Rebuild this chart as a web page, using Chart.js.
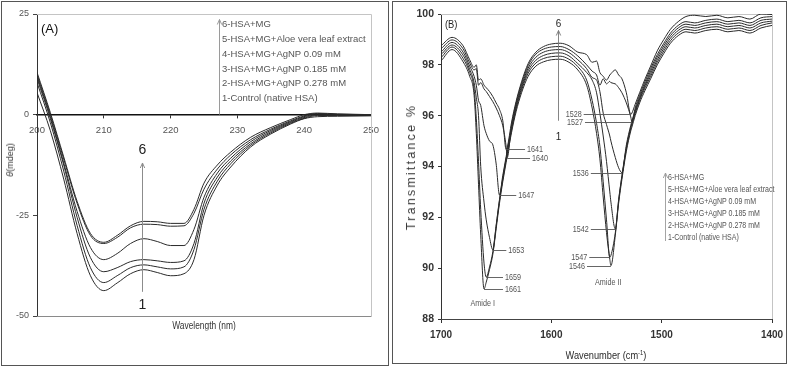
<!DOCTYPE html>
<html>
<head>
<meta charset="utf-8">
<script src="https://cdn.jsdelivr.net/npm/chart.js@4.4.1/dist/chart.umd.min.js"></script>
<style>
  body { margin: 0; background: #fff; }
  #wrap { position: relative; width: 787px; height: 367px; overflow: hidden; font-family: "Liberation Sans", Arial, sans-serif; }
  .box { position: absolute; border: 1px solid #555; }
  canvas { position: absolute; top: 0; }
  .ttl { position: absolute; white-space: nowrap; color: #333; transform: translate(-50%, -50%); }
  .rot { transform: translate(-50%, -50%) rotate(-90deg); }
  .nar { transform: translate(-50%, -50%) scaleX(0.84); }
</style>
</head>
<body>
<div id="wrap">
  <div class="box" style="left:1px;top:1px;width:386px;height:363px"></div>
  <div class="box" style="left:392px;top:1px;width:393px;height:361px"></div>
  <canvas id="cd" width="390" height="367" style="left:0"></canvas>
  <canvas id="ftir" width="397" height="367" style="left:390px"></canvas>
  <div class="ttl rot" style="left:10px;top:160px;font-size:9px"><i>θ</i>(mdeg)</div>
  <div class="ttl nar" style="left:204px;top:325px;font-size:10px">Wavelength (nm)</div>
  <div class="ttl rot" style="left:411px;top:167px;font-size:12.5px;letter-spacing:2.2px;color:#3a3a3a">Transmittance %</div>
  <div class="ttl nar" style="left:606px;top:355px;font-size:11px;color:#2a2a2a">Wavenumber (cm<sup style="font-size:7px">-1</sup>)</div>
</div>
<script>
// legend text (same for both panels)
const legendLabels = [
  '6-HSA+MG',
  '5-HSA+MG+Aloe vera leaf extract',
  '4-HSA+MG+AgNP 0.09 mM',
  '3-HSA+MG+AgNP 0.185 mM',
  '2-HSA+MG+AgNP 0.278 mM',
  '1-Control (native HSA)'
];

// (A) CD spectra, wavelength in nm, ellipticity in mdeg
const wavelength = [200, 202, 204, 206, 208, 210, 212, 214, 216, 218, 220, 222, 223.5, 225, 227, 229, 232, 235, 238, 240, 242, 245, 250];
const cd6 = [10.5, 0.5, -10.5, -21.5, -29.5, -31.7, -30.0, -27.6, -26.5, -26.6, -27.0, -27.0, -23.5, -17.0, -12.5, -9.3, -5.6, -3.2, -1.2, 0.0, 0.4, 0.2, 0.0];
const cd5 = [10.0, 0.0, -11.0, -22.0, -30.0, -32.0, -30.5, -28.1, -27.2, -27.3, -27.7, -27.6, -24.5, -18.5, -13.5, -10.0, -6.2, -3.6, -1.5, -0.3, 0.3, 0.1, 0.0];
const cd4 = [9.5, -0.5, -12.0, -24.0, -33.0, -36.0, -34.5, -32.0, -30.8, -31.5, -32.5, -32.5, -28.5, -20.5, -14.5, -10.8, -6.7, -3.9, -1.7, -0.5, 0.2, 0.0, 0.0];
const cd3 = [9.0, -1.0, -12.5, -25.5, -35.5, -39.0, -38.0, -36.5, -36.0, -36.3, -36.7, -36.3, -32.0, -22.0, -15.5, -11.5, -7.2, -4.2, -1.9, -0.7, 0.0, 0.0, -0.1];
const cd2 = [8.0, -2.0, -14.0, -27.5, -38.0, -41.7, -40.0, -38.0, -37.3, -37.8, -38.3, -37.8, -33.5, -23.5, -16.5, -12.2, -7.6, -4.5, -2.1, -0.9, -0.2, -0.2, -0.2];
const cd1 = [5.5, -4.0, -16.0, -29.5, -40.0, -43.7, -41.8, -39.5, -38.5, -39.2, -40.0, -39.5, -36.0, -25.0, -17.5, -13.0, -8.0, -4.8, -2.3, -1.0, -0.5, -0.4, -0.3];
const cdTicksX = [200, 210, 220, 230, 240, 250];
const cdTicksY = [-50, -25, 0, 25];

// (B) FTIR spectra, wavenumber in cm-1, transmittance %
const wavenumber = [1700, 1690, 1680, 1674, 1670, 1668, 1666, 1664, 1661, 1659, 1656, 1653, 1650, 1647, 1644, 1641, 1640, 1636, 1632, 1627, 1621, 1614, 1607, 1600, 1592, 1584, 1576, 1568, 1563, 1559, 1556, 1553, 1550, 1547, 1546, 1542, 1539, 1536, 1532, 1528, 1527, 1524, 1520, 1515, 1510, 1504, 1498, 1492, 1485, 1478, 1470, 1460, 1450, 1440, 1430, 1420, 1410, 1400];
const ft6 = [98.75, 99.08, 98.75, 98.2, 97.9, 98.0, 97.4, 97.45, 97.2, 97.1, 96.95, 96.75, 96.5, 96.25, 95.8, 94.67, 94.75, 95.75, 96.55, 97.33, 98.05, 98.5, 98.72, 98.82, 98.85, 98.75, 98.5, 98.4, 98.1, 98.15, 97.7, 97.55, 97.4, 97.6, 97.65, 97.8, 97.6, 97.45, 96.9, 96.05, 96.1, 96.45, 96.9, 97.45, 97.95, 98.55, 99.0, 99.4, 99.7, 99.9, 99.95, 99.9, 99.95, 99.85, 99.9, 99.8, 100.0, 99.98];
const ft5 = [98.63, 98.98, 98.63, 98.08, 97.8, 97.85, 97.2, 97.3, 97.05, 96.95, 96.75, 96.55, 96.3, 96.0, 95.6, 94.8, 94.35, 95.65, 96.48, 97.25, 97.97, 98.42, 98.62, 98.7, 98.72, 98.6, 98.35, 98.0, 97.75, 97.6, 97.2, 97.45, 97.25, 97.35, 97.3, 97.25, 97.1, 96.9, 96.5, 95.95, 95.75, 96.3, 96.8, 97.35, 97.85, 98.4, 98.85, 99.25, 99.55, 99.7, 99.65, 99.75, 99.8, 99.7, 99.75, 99.65, 99.85, 99.9];
const ft4 = [98.5, 98.88, 98.5, 97.95, 97.55, 97.2, 96.6, 96.4, 95.6, 95.3, 95.0, 94.85, 94.1, 92.88, 93.65, 94.38, 94.62, 95.58, 96.4, 97.16, 97.87, 98.3, 98.5, 98.58, 98.6, 98.48, 98.2, 97.85, 97.5, 97.4, 96.95, 96.1, 95.65, 95.2, 95.0, 94.35, 93.95, 93.76, 94.85, 95.62, 95.78, 96.22, 96.72, 97.25, 97.75, 98.3, 98.75, 99.15, 99.45, 99.6, 99.55, 99.65, 99.7, 99.6, 99.65, 99.55, 99.75, 99.8];
const ft3 = [98.4, 98.78, 98.38, 97.82, 97.3, 96.7, 96.0, 94.0, 92.6, 91.9, 91.2, 90.72, 91.7, 92.7, 93.55, 94.3, 94.55, 95.5, 96.32, 97.08, 97.77, 98.18, 98.37, 98.45, 98.47, 98.35, 98.05, 97.7, 97.4, 96.9, 96.1, 95.2, 94.2, 93.0, 92.6, 91.54, 92.7, 93.65, 94.75, 95.55, 95.7, 96.15, 96.65, 97.18, 97.65, 98.2, 98.65, 99.05, 99.35, 99.5, 99.45, 99.55, 99.6, 99.5, 99.55, 99.45, 99.65, 99.72];
const ft2 = [98.28, 98.7, 98.25, 97.7, 97.05, 95.9, 94.2, 92.3, 90.2, 89.65, 90.05, 90.65, 91.65, 92.65, 93.5, 94.25, 94.5, 95.45, 96.25, 97.0, 97.67, 98.07, 98.25, 98.32, 98.34, 98.22, 97.93, 97.4, 96.6, 95.7, 94.8, 93.4, 91.9, 90.43, 90.5, 91.4, 92.65, 93.6, 94.7, 95.5, 95.65, 96.1, 96.6, 97.1, 97.55, 98.1, 98.55, 98.95, 99.25, 99.4, 99.35, 99.45, 99.5, 99.4, 99.45, 99.35, 99.55, 99.65];
const ft1 = [98.15, 98.6, 98.12, 97.55, 96.8, 95.3, 93.3, 91.3, 89.18, 89.45, 89.95, 90.55, 91.55, 92.55, 93.4, 94.15, 94.4, 95.35, 96.15, 96.9, 97.55, 97.95, 98.12, 98.2, 98.22, 98.1, 97.8, 97.2, 96.3, 95.3, 94.3, 92.8, 91.4, 90.35, 90.1, 91.3, 92.55, 93.5, 94.6, 95.4, 95.55, 96.0, 96.5, 97.0, 97.45, 98.0, 98.45, 98.85, 99.15, 99.3, 99.25, 99.35, 99.4, 99.3, 99.35, 99.25, 99.45, 99.55];
const ftTicksX = [1700, 1600, 1500, 1400];
const ftTicksY = [88, 90, 92, 94, 96, 98, 100];

const cdSeries = [cd6, cd5, cd4, cd3, cd2, cd1];
const ftSeries = [ft6, ft5, ft4, ft3, ft2, ft1];

const fontS = '"Liberation Sans", Arial, sans-serif';

function arrowUp(ctx, x, yFrom, yTo) {
  ctx.beginPath();
  ctx.moveTo(x, yFrom);
  ctx.lineTo(x, yTo);
  ctx.stroke();
  ctx.beginPath();
  ctx.moveTo(x - 2.2, yTo + 5);
  ctx.lineTo(x, yTo);
  ctx.lineTo(x + 2.2, yTo + 5);
  ctx.stroke();
}

// condensed text (the original uses a narrow face)
function narrow(ctx, t, x, y, align, sx) {
  ctx.save();
  ctx.translate(x, y);
  ctx.scale(sx || 0.82, 1);
  ctx.textAlign = align;
  ctx.fillText(t, 0, 0);
  ctx.restore();
}

function frame(ctx, a, bottomColor) {
  ctx.lineWidth = 1;
  ctx.strokeStyle = '#c4c4c4';
  ctx.beginPath();
  ctx.moveTo(a.left, a.top + 0.5);
  ctx.lineTo(a.right + 0.5, a.top + 0.5);
  ctx.lineTo(a.right + 0.5, a.bottom);
  ctx.stroke();
  ctx.strokeStyle = bottomColor;
  ctx.beginPath();
  ctx.moveTo(a.left, a.bottom + 0.5);
  ctx.lineTo(a.right + 0.5, a.bottom + 0.5);
  ctx.stroke();
}

// extras for panel A: frame, arrow, labels, text legend
const extrasA = {
  id: 'extrasA',
  beforeDatasetsDraw(chart) {
    const { ctx, chartArea: a } = chart;
    ctx.save();
    frame(ctx, a, '#8a8a8a');
    ctx.restore();
  },
  afterDatasetsDraw(chart) {
    const { ctx, chartArea: a, scales: { x, y } } = chart;
    ctx.save();
    ctx.strokeStyle = '#8c8c8c';
    ctx.lineWidth = 1;
    const ax = Math.round(x.getPixelForValue(215.7)) + 0.5;
    arrowUp(ctx, ax, y.getPixelForValue(-44), y.getPixelForValue(-12));
    ctx.fillStyle = '#222';
    ctx.font = '14px ' + fontS;
    ctx.textAlign = 'center';
    ctx.textBaseline = 'middle';
    ctx.fillText('6', ax, y.getPixelForValue(-8.9));
    ctx.fillText('1', ax, y.getPixelForValue(-47.3));
    ctx.font = '13px ' + fontS;
    ctx.fillStyle = '#111';
    ctx.textAlign = 'left';
    ctx.fillText('(A)', a.left + 4, a.top + 15);
    // legend
    const lx = a.left + 185, ly = a.top + 10.5;
    ctx.strokeStyle = '#9a9a9a';
    arrowUp(ctx, lx - 2.5, ly + 90, ly - 5);
    ctx.font = '9.5px ' + fontS;
    ctx.fillStyle = '#555';
    legendLabels.forEach((t, i) => ctx.fillText(t, lx, ly + i * 14.8));
    ctx.restore();
  }
};

// peak labels for panel B: series, wavenumber of minimum, side, text anchor wavenumber
const peaksB = [
  { s: ft6, nu: 1641, side: 'r', at: 1622 },
  { s: ft5, nu: 1640, side: 'r', at: 1617.5 },
  { s: ft4, nu: 1647, side: 'r', at: 1630 },
  { s: ft3, nu: 1653, side: 'r', at: 1639 },
  { s: ft2, nu: 1659, side: 'r', at: 1642 },
  { s: ft1, nu: 1661, side: 'r', at: 1642 },
  { s: ft6, nu: 1528, side: 'l', at: 1572.5 },
  { s: ft5, nu: 1527, side: 'l', at: 1571.3 },
  { s: ft4, nu: 1536, side: 'l', at: 1566 },
  { s: ft3, nu: 1542, side: 'l', at: 1566 },
  { s: ft2, nu: 1547, side: 'l', at: 1567.4 },
  { s: ft1, nu: 1546, side: 'l', at: 1569.5 }
];

const extrasB = {
  id: 'extrasB',
  beforeDatasetsDraw(chart) {
    const { ctx, chartArea: a } = chart;
    ctx.save();
    frame(ctx, a, '#444');
    ctx.restore();
  },
  afterDatasetsDraw(chart) {
    const { ctx, chartArea: a, scales: { x, y } } = chart;
    ctx.save();
    ctx.lineWidth = 0.9;
    ctx.strokeStyle = '#555';
    ctx.fillStyle = '#555';
    ctx.font = '9px ' + fontS;
    ctx.textBaseline = 'middle';
    peaksB.forEach(p => {
      const t = p.s[wavenumber.indexOf(p.nu)];
      const px = x.getPixelForValue(p.nu);
      const py = Math.round(y.getPixelForValue(t)) + 0.5;
      const tx = x.getPixelForValue(p.at);
      ctx.beginPath();
      if (p.side === 'r') {
        ctx.moveTo(px, py); ctx.lineTo(tx - 2, py);
      } else {
        ctx.moveTo(tx + 2, py); ctx.lineTo(px, py);
      }
      ctx.stroke();
      narrow(ctx, String(p.nu), tx, py, p.side === 'r' ? 'left' : 'right', 0.8);
    });
    narrow(ctx, 'Amide I', x.getPixelForValue(1662.2), y.getPixelForValue(88.6), 'center', 0.8);
    narrow(ctx, 'Amide II', x.getPixelForValue(1548.4), y.getPixelForValue(89.43), 'center', 0.8);
    // arrow 1 -> 6
    ctx.strokeStyle = '#777';
    const ax = Math.round(x.getPixelForValue(1594.4)) + 0.5;
    arrowUp(ctx, ax, y.getPixelForValue(95.8), y.getPixelForValue(99.35));
    ctx.fillStyle = '#222';
    ctx.font = '11px ' + fontS;
    narrow(ctx, '6', ax, y.getPixelForValue(99.62), 'center', 0.9);
    narrow(ctx, '1', ax, y.getPixelForValue(95.15), 'center', 0.9);
    ctx.font = '11px ' + fontS;
    narrow(ctx, '(B)', a.left + 4, a.top + 11, 'left', 0.85);
    // legend
    const lx = a.left + 227, ly = a.top + 164;
    ctx.strokeStyle = '#9a9a9a';
    arrowUp(ctx, lx - 2.5, ly + 63, ly - 5);
    ctx.font = '8.8px ' + fontS;
    ctx.fillStyle = '#555';
    legendLabels.forEach((t, i) => narrow(ctx, t, lx, ly + i * 12, 'left', 0.8));
    ctx.restore();
  }
};

function makeSets(xs, series) {
  return series.map((vals, k) => ({
    label: legendLabels[k],
    data: xs.map((v, i) => ({ x: v, y: vals[i] })),
    borderColor: '#2a2a2a',
    borderWidth: 1,
    pointRadius: 0,
    fill: false,
    cubicInterpolationMode: 'monotone'
  }));
}

const plain = v => String(v);

new Chart(document.getElementById('cd'), {
  type: 'line',
  data: { datasets: makeSets(wavelength, cdSeries) },
  options: {
    responsive: false,
    animation: false,
    layout: { padding: { left: 0, right: 19, top: 14, bottom: 51 } },
    plugins: { legend: { display: false }, tooltip: { enabled: false } },
    scales: {
      x: {
        type: 'linear', position: { y: 0 }, min: 200, max: 250,
        afterBuildTicks: s => { s.ticks = cdTicksX.map(v => ({ value: v })); },
        ticks: { color: '#555', font: { family: fontS, size: 9.5 }, padding: 7, maxRotation: 0, callback: plain },
        grid: { drawOnChartArea: false, tickLength: 3, color: '#333' },
        border: { color: '#111', width: 1.4 },
        afterFit: s => { s.paddingLeft = 0; s.paddingRight = 0; }
      },
      y: {
        type: 'linear', min: -50, max: 25,
        afterBuildTicks: s => { s.ticks = cdTicksY.map(v => ({ value: v })); },
        ticks: { color: '#555', font: { family: fontS, size: 9 }, padding: 4, callback: plain },
        grid: { drawOnChartArea: false, tickLength: 4, color: '#444' },
        border: { color: '#333', width: 1 },
        afterFit: s => { s.width = 37; s.paddingTop = 0; s.paddingBottom = 0; }
      }
    }
  },
  plugins: [extrasA]
});

new Chart(document.getElementById('ftir'), {
  type: 'line',
  data: { datasets: makeSets(wavenumber, ftSeries) },
  options: {
    responsive: false,
    animation: false,
    layout: { padding: { left: 0, right: 15, top: 14, bottom: 18 } },
    plugins: { legend: { display: false }, tooltip: { enabled: false } },
    scales: {
      x: {
        type: 'linear', reverse: true, min: 1400, max: 1700,
        afterBuildTicks: s => { s.ticks = ftTicksX.map(v => ({ value: v })); },
        ticks: { color: '#333', font: { family: fontS, size: 10, weight: 'bold' }, padding: 6, maxRotation: 0, callback: plain },
        grid: { drawOnChartArea: false, tickLength: 4, color: '#333' },
        border: { color: '#333', width: 1 },
        afterFit: s => { s.height = 30; s.paddingLeft = 0; s.paddingRight = 0; }
      },
      y: {
        type: 'linear', min: 88, max: 100,
        afterBuildTicks: s => { s.ticks = ftTicksY.map(v => ({ value: v })); },
        ticks: { color: '#333', font: { family: fontS, size: 10.5, weight: 'bold' }, padding: 4, callback: plain },
        grid: { drawOnChartArea: false, tickLength: 3, color: '#333' },
        border: { color: '#333', width: 1 },
        afterFit: s => { s.width = 51; s.paddingTop = 0; s.paddingBottom = 0; }
      }
    }
  },
  plugins: [extrasB]
});
</script>
</body>
</html>
